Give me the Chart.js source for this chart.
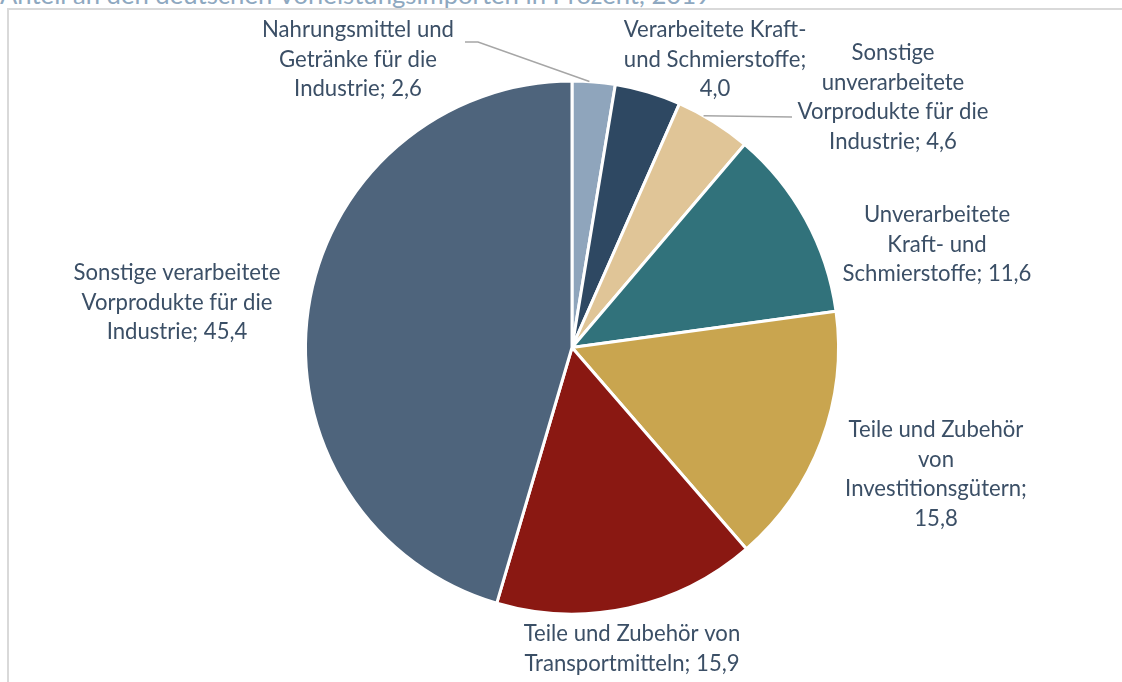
<!DOCTYPE html>
<html>
<head>
<meta charset="utf-8">
<script src="https://cdn.jsdelivr.net/npm/chart.js@4/dist/chart.umd.min.js"></script>
<style>
  html, body { margin: 0; padding: 0; background: #fff; overflow: hidden; }
  #wrap { position: relative; width: 1122px; height: 682px; overflow: hidden; }
  #title { position: absolute; left: 0; top: -21px; font-family: Lato, sans-serif; font-size: 24px; color: #8ea8c0; white-space: nowrap; }
  #frame { position: absolute; left: 7px; top: 8px; width: 1200px; height: 800px; border-left: 2px solid #d9d9d9; border-top: 2px solid #d9d9d9; }
  canvas { position: absolute; left: 0; top: 0; }
</style>
</head>
<body>
<div id="wrap">
  <div id="title">Anteil an den deutschen Vorleistungsimporten in Prozent, 2019</div>
  <div id="frame"></div>
  <canvas id="c" width="1122" height="682"></canvas>
</div>
<script>
// ---- data ----
const categories = [
  "Nahrungsmittel und Getränke für die Industrie",
  "Verarbeitete Kraft- und Schmierstoffe",
  "Sonstige unverarbeitete Vorprodukte für die Industrie",
  "Unverarbeitete Kraft- und Schmierstoffe",
  "Teile und Zubehör von Investitionsgütern",
  "Teile und Zubehör von Transportmitteln",
  "Sonstige verarbeitete Vorprodukte für die Industrie"
];
const shares = [2.6, 4.0, 4.6, 11.6, 15.8, 15.9, 45.4];
const labelLines = [
  ["Nahrungsmittel und", "Getränke für die", "Industrie; 2,6"],
  ["Verarbeitete Kraft-", "und Schmierstoffe;", "4,0"],
  ["Sonstige", "unverarbeitete", "Vorprodukte für die", "Industrie; 4,6"],
  ["Unverarbeitete", "Kraft- und", "Schmierstoffe; 11,6"],
  ["Teile und Zubehör", "von", "Investitionsgütern;", "15,8"],
  ["Teile und Zubehör von", "Transportmitteln; 15,9"],
  ["Sonstige verarbeitete", "Vorprodukte für die", "Industrie; 45,4"]
];

// ---- styles / layout ----
const colors = ["#8fa5bc", "#2e4862", "#e0c597", "#31727b", "#c9a54f", "#8a1812", "#4e647c"];
const labelPos = [
  {x: 358, y: 30}, {x: 715, y: 30}, {x: 893, y: 53}, {x: 937, y: 215},
  {x: 936, y: 430}, {x: 632, y: 634}, {x: 177, y: 273}
];
const leaders = {
  0: {pts: [[465, 42], [478, 42]], frac: 0.4},
  2: {pts: [[792, 117]], frac: 0.35}
};
const lineHeight = 29.5;
const labelFamily = 'Lato, sans-serif';

// fit fonts to the reference text widths
const mctx = document.createElement('canvas').getContext('2d');
mctx.font = '20px ' + labelFamily;
const labelSize = 20 * 207 / mctx.measureText("Sonstige verarbeitete").width;
const titleEl = document.getElementById('title');
mctx.font = '24px Lato, sans-serif';
const titleSize = 24 * 712 / mctx.measureText(titleEl.textContent).width;
titleEl.style.fontSize = titleSize.toFixed(2) + 'px';
titleEl.style.top = (6 - titleSize * 1.2 + titleSize * 0.22 - 2).toFixed(1) + 'px';

const labelPlugin = {
  id: 'outLabels',
  afterDatasetsDraw(chart) {
    const ctx = chart.ctx;
    const meta = chart.getDatasetMeta(0);
    ctx.save();
    ctx.strokeStyle = '#a6a6a6';
    ctx.lineWidth = 1.5;
    Object.keys(leaders).forEach(k => {
      const arc = meta.data[k];
      const L = leaders[k];
      const a = arc.startAngle + (arc.endAngle - arc.startAngle) * L.frac;
      const ex = arc.x + Math.cos(a) * arc.outerRadius;
      const ey = arc.y + Math.sin(a) * arc.outerRadius;
      ctx.beginPath();
      ctx.moveTo(L.pts[0][0], L.pts[0][1]);
      for (let i = 1; i < L.pts.length; i++) ctx.lineTo(L.pts[i][0], L.pts[i][1]);
      ctx.lineTo(ex, ey);
      ctx.stroke();
    });
    ctx.fillStyle = '#3b4f66';
    ctx.font = labelSize.toFixed(2) + 'px ' + labelFamily;
    ctx.textAlign = 'center';
    ctx.textBaseline = 'middle';
    labelLines.forEach((lines, i) => {
      const p = labelPos[i];
      lines.forEach((t, j) => ctx.fillText(t, p.x, p.y + j * lineHeight));
    });
    ctx.restore();
  }
};

new Chart(document.getElementById('c'), {
  type: 'pie',
  data: {
    labels: categories,
    datasets: [{
      data: shares,
      backgroundColor: colors,
      borderColor: '#ffffff',
      borderWidth: 3,
      hoverOffset: 0
    }]
  },
  options: {
    responsive: false,
    animation: false,
    events: [],
    rotation: 0,
    layout: { padding: { top: 79, bottom: 66, left: 304, right: 282 } },
    plugins: { legend: { display: false }, tooltip: { enabled: false }, title: { display: false } }
  },
  plugins: [labelPlugin]
});
</script>
</body>
</html>
